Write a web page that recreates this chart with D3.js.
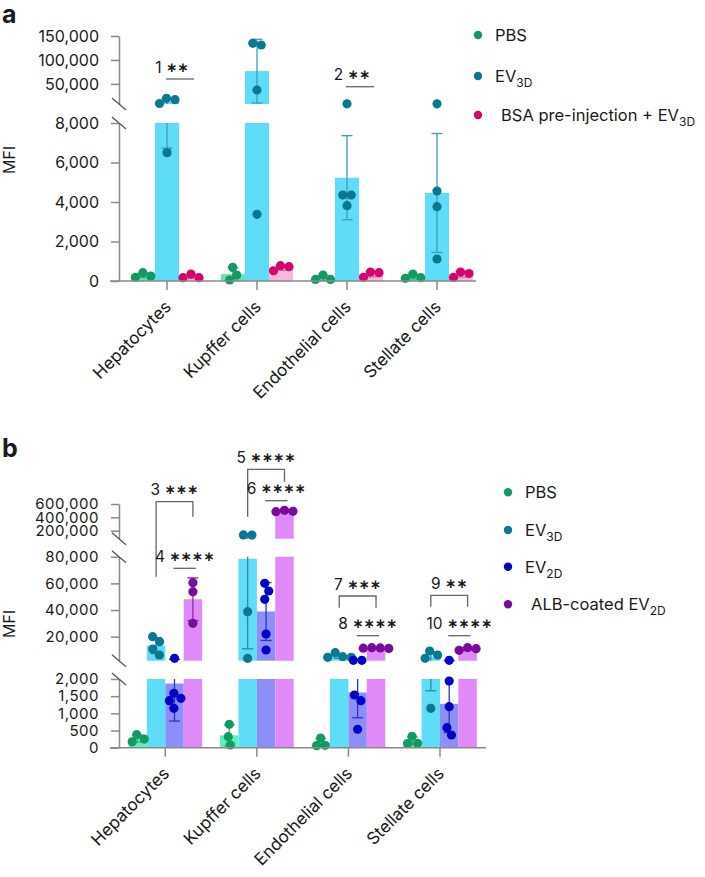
<!DOCTYPE html>
<html><head><meta charset="utf-8">
<script src="https://cdn.jsdelivr.net/npm/d3@7"></script>
<style>
body{margin:0;background:#fff}
svg{display:block}
text{font-family:Inter,"Liberation Sans",sans-serif;fill:#1a1a1a}
</style>
</head><body>
<svg id="chart" width="705" height="877"></svg>
<script>
// ---------------- DATA ----------------
const categories = ["Hepatocytes", "Kupffer cells", "Endothelial cells", "Stellate cells"];

// Panel a (MFI per mouse)
const a_PBS  = [[190, 420, 250], [690, 50, 300], [80, 300, 80], [137, 354, 167]];
const a_EV3D = [[19900, 9000, 17000, 6500], [131200, 134750, 37235, 3377], [4354, 8400, 4354, 3812], [8400, 4557, 3762, 1114]];
const a_BSA  = [[170, 350, 170], [520, 775, 725], [190, 450, 420], [180, 450, 380]];
const a_ticksLow  = [0, 2000, 4000, 6000, 8000];
const a_ticksHigh = [50000, 100000, 150000];
const a_legend = [["PBS", ""], ["EV", "3D"], ["BSA pre-injection + EV", "3D"]];
const a_stats = [["1", "∗∗", 0, 1, 2], ["2", "∗∗", 2, 1, 2]];

// Panel b
const b_PBS  = [[170, 380, 250], [681, 320, 79], [70, 280, 60], [120, 330, 130]];
const b_EV3D = [[16250, 20000, 10775, 6275], [135000, 136000, 38750, 3800], [5000, 8000, 4500, 4500], [9270, 6290, 3800, 1147]];
const b_EV2D = [[3800, 1584, 1438, 1368, 1147], [60060, 54290, 48050, 22030, 10030], [2300, 2300, 1534, 1368, 536], [2300, 1942, 1193, 582, 370]];
const b_ALB  = [[60500, 53750, 30050], [485000, 505000, 490000], [11200, 11600, 11400, 11800], [9800, 11000, 11800]];
const b_ticksLow  = [0, 500, 1000, 1500, 2000];
const b_ticksMid  = [20000, 40000, 60000, 80000];
const b_ticksHigh = [200000, 400000, 600000];
const b_legend = [["PBS", ""], ["EV", "3D"], ["EV", "2D"], ["ALB-coated EV", "2D"]];
const b_stats = [["3", "∗∗∗", 0, 1, 3], ["4", "∗∗∗∗", 0, 2, 3], ["5", "∗∗∗∗", 1, 1, 3], ["6", "∗∗∗∗", 1, 2, 3],
                 ["7", "∗∗∗", 2, 1, 3], ["8", "∗∗∗∗", 2, 2, 3], ["9", "∗∗", 3, 1, 3], ["10", "∗∗∗∗", 3, 2, 3]];

// ---------------- STYLE / LAYOUT ----------------
const svg = d3.select("#chart");
const AX = "#8a8a8a";
const R = 4.6;

function swarm(ys, d) {
  const order = ys.map((y, i) => i).sort((p, q) => ys[p] - ys[q]);
  const xs = new Array(ys.length);
  const placed = [];
  for (const i of order) {
    let best = 0;
    outer: for (let k = 0; k <= 80; k++) {
      for (const s of [1, -1]) {
        const dx = s * k * 0.5;
        if (placed.every(p => Math.hypot(p.x - dx, p.y - ys[i]) >= d)) { best = dx; break outer; }
      }
    }
    xs[i] = best; placed.push({x: best, y: ys[i], i});
  }
  const comp = ys.map((_, i) => i);
  const find = i => comp[i] === i ? i : (comp[i] = find(comp[i]));
  for (let i = 0; i < ys.length; i++) for (let j = i + 1; j < ys.length; j++)
    if (Math.hypot(xs[i] - xs[j], ys[i] - ys[j]) < d + 1.5) comp[find(i)] = find(j);
  const groups = d3.group(ys.map((_, i) => i), i => find(i));
  for (const [, g] of groups) {
    const m = d3.mean(g, i => xs[i]);
    g.forEach(i => xs[i] -= m);
  }
  return xs;
}

function drawPanel(cfg) {
  const g = svg.append("g");
  const segs = cfg.segments.map(s => ({...s, scale: d3.scaleLinear().domain([s.lo, s.hi]).range([s.y0, s.y1])}));
  const yOf = v => { const s = segs.find(s => v >= s.lo && v <= s.hi) || segs[segs.length - 1]; return s.scale(v); };
  const x = d3.scalePoint().domain(categories).range(cfg.xRange);
  const baseY = segs[0].y0;

  // bars
  cfg.series.forEach((ser, si) => {
    ser.data.forEach((vals, ci) => {
      const m = d3.mean(vals);
      const cx = x(categories[ci]) + cfg.offsets[si];
      segs.forEach(s => {
        if (m <= s.lo) return;
        const top = s.scale(Math.min(m, s.hi));
        g.append("rect").attr("x", cx - cfg.barW / 2).attr("width", cfg.barW)
          .attr("y", top).attr("height", s.scale(s.lo) - top).attr("fill", ser.bar);
      });
    });
  });
  // error bars (mean ± SD)
  cfg.series.forEach((ser, si) => {
    ser.data.forEach((vals, ci) => {
      const m = d3.mean(vals), sd = d3.deviation(vals);
      const lo = Math.max(0, m - sd), hi = m + sd;
      const cx = x(categories[ci]) + cfg.offsets[si];
      segs.forEach(s => {
        const a = Math.max(lo, s.lo), b = Math.min(hi, s.hi);
        if (b <= a) return;
        g.append("line").attr("x1", cx).attr("x2", cx).attr("y1", s.scale(a)).attr("y2", s.scale(b))
          .attr("stroke", ser.err).attr("stroke-width", 1.3);
      });
      [m - sd, m + sd].forEach(v => {
        if (v <= 0) return;
        g.append("line").attr("x1", cx - 5.5).attr("x2", cx + 5.5).attr("y1", yOf(v)).attr("y2", yOf(v))
          .attr("stroke", ser.err).attr("stroke-width", 1.3);
      });
    });
  });
  // points
  cfg.series.forEach((ser, si) => {
    ser.data.forEach((vals, ci) => {
      const cx = x(categories[ci]) + cfg.offsets[si];
      const ys = vals.map(yOf);
      const xs = swarm(ys, 8.5);
      vals.forEach((v, i) => {
        g.append("circle").attr("cx", cx + xs[i]).attr("cy", ys[i]).attr("r", R).attr("fill", ser.pt);
      });
    });
  });

  // y axes (broken)
  segs.forEach((s, k) => {
    const ag = g.append("g").attr("transform", `translate(${cfg.axisX},0)`)
      .call(d3.axisLeft(s.scale).tickValues(s.ticks).tickFormat(d3.format(",")).tickSize(8).tickSizeOuter(0).tickPadding(12));
    ag.select(".domain").attr("stroke", AX).attr("stroke-width", 1.5);
    ag.selectAll(".tick line").attr("stroke", AX).attr("stroke-width", 1.5);
    ag.selectAll(".tick text").attr("font-size", cfg.tickFont).attr("letter-spacing", cfg.tickLS)
      .attr("fill", "#1a1a1a").attr("font-family", "Inter");
    const ends = [];
    if (k > 0) ends.push(s.y0);
    if (k < segs.length - 1) ends.push(s.y1);
    ends.forEach(yy => g.append("line").attr("x1", cfg.axisX - 7).attr("y1", yy - 6).attr("x2", cfg.axisX + 7).attr("y2", yy + 6)
      .attr("stroke", "#555").attr("stroke-width", 1.3));
  });
  // x axis
  g.append("line").attr("x1", cfg.axisX - 9).attr("x2", cfg.xEnd).attr("y1", baseY).attr("y2", baseY)
    .attr("stroke", AX).attr("stroke-width", 1.5);
  categories.forEach(c => {
    g.append("line").attr("x1", x(c)).attr("x2", x(c)).attr("y1", baseY).attr("y2", baseY + 9)
      .attr("stroke", AX).attr("stroke-width", 1.5);
    g.append("text").attr("text-anchor", "end").attr("font-size", 17)
      .attr("transform", `translate(${x(c) + 5},${baseY + 27}) rotate(-45)`).text(c);
  });
  // MFI label
  g.append("text").attr("text-anchor", "middle").attr("font-size", 16)
    .attr("transform", `translate(15,${cfg.mfiY}) rotate(-90)`).text("MFI");
  // panel letter
  g.append("text").attr("x", 2).attr("y", cfg.letterY).attr("font-size", 25).attr("font-weight", 700).text(cfg.letter);

  // legend
  cfg.legend.forEach((L, i) => {
    const ly = cfg.legendY[i];
    g.append("circle").attr("cx", cfg.legendX).attr("cy", ly).attr("r", 4.2).attr("fill", cfg.series[i].pt);
    const t = g.append("text").attr("x", cfg.legendX + 17 + (i === cfg.legend.length - 1 ? 6 : 0)).attr("y", ly + 6).attr("font-size", 16.5);
    t.append("tspan").text(L[0]);
    if (L[1]) t.append("tspan").attr("font-size", 12).attr("dy", 5).text(L[1]);
  });

  // statistics annotations
  cfg.stats.forEach((st, k) => {
    const lay = cfg.statLayout[k];
    const c = categories[st[2]];
    const x1 = x(c) + cfg.offsets[st[3]], x2 = x(c) + cfg.offsets[st[4]];
    let cx;
    if (lay.type === "bracket") {
      g.append("path").attr("d", `M${x1},${lay.l}V${lay.y}H${x2}V${lay.r}`)
        .attr("fill", "none").attr("stroke", "#666").attr("stroke-width", 1.3);
      cx = (x1 + x2) / 2;
    } else {
      const a = x1 - 1, b = x2 + 3;
      g.append("line").attr("x1", a).attr("x2", b).attr("y1", lay.y).attr("y2", lay.y)
        .attr("stroke", "#666").attr("stroke-width", 1.3);
      cx = (a + b) / 2 + (lay.dx || 0);
    }
    const t = g.append("text").attr("x", cx).attr("y", lay.y - 6.5).attr("text-anchor", "middle").attr("font-size", 15.5);
    t.append("tspan").text(st[0] + " ");
    t.append("tspan").attr("font-family", "DejaVu Sans").attr("font-weight", 700).attr("font-size", 13.5).attr("dy", -1).text(st[1]);
  });
}

drawPanel({
  letter: "a", letterY: 23, mfiY: 160, tickFont: 16, tickLS: 0,
  axisX: 119, xRange: [167, 437], xEnd: 476, barW: 24, offsets: [-24, 0, 24],
  segments: [
    {lo: 0, hi: 8000, y0: 281, y1: 123, ticks: a_ticksLow},
    {lo: 8000, hi: 150000, y0: 104, y1: 36, ticks: a_ticksHigh}
  ],
  series: [
    {data: a_PBS, bar: "#5ee8ad", pt: "#139a62", err: "#3bb884"},
    {data: a_EV3D, bar: "#5fdcf7", pt: "#0b7892", err: "#3a9fb6"},
    {data: a_BSA, bar: "#f9b8db", pt: "#d4046c", err: "#e06aa0"}
  ],
  legend: a_legend, legendX: 478, legendY: [35, 76, 115],
  stats: a_stats,
  statLayout: [{type: "line", y: 79, dx: -8}, {type: "line", y: 86.7, dx: -8}]
});

drawPanel({
  letter: "b", letterY: 457, mfiY: 624, tickFont: 15, tickLS: 0.5,
  axisX: 119, xRange: [165.3, 440], xEnd: 486, barW: 18.4, offsets: [-27.6, -9.2, 9.2, 27.6],
  segments: [
    {lo: 0, hi: 2000, y0: 747.7, y1: 679, ticks: b_ticksLow},
    {lo: 2000, hi: 80000, y0: 660.7, y1: 556.7, ticks: b_ticksMid},
    {lo: 80000, hi: 600000, y0: 538.7, y1: 504, ticks: b_ticksHigh}
  ],
  series: [
    {data: b_PBS, bar: "#5ff0b5", pt: "#139a62", err: "#3bb884"},
    {data: b_EV3D, bar: "#5fdcf7", pt: "#0b7892", err: "#2a8aa2"},
    {data: b_EV2D, bar: "#8e8ef8", pt: "#0303c8", err: "#3030d0"},
    {data: b_ALB, bar: "#df8af6", pt: "#7a0c9c", err: "#8a2aaa"}
  ],
  legend: b_legend, legendX: 508, legendY: [492.3, 530, 566.7, 604.3],
  stats: b_stats,
  statLayout: [
    {type: "bracket", y: 501.7, l: 576.7, r: 516.7},
    {type: "line", y: 568.3},
    {type: "bracket", y: 469.3, l: 516.7, r: 481.7},
    {type: "line", y: 500.7},
    {type: "bracket", y: 596, l: 607.7, r: 607.7},
    {type: "line", y: 635.7},
    {type: "bracket", y: 595.3, l: 606.7, r: 606.7},
    {type: "line", y: 635.7}
  ]
});
</script>
</body></html>
